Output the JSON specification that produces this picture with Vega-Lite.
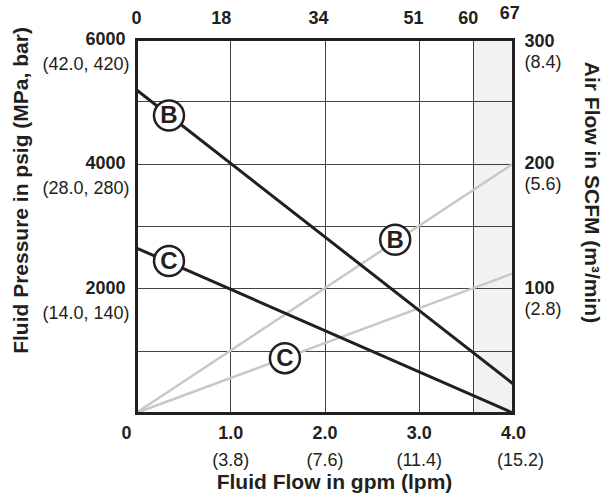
{
  "$schema": "https://vega.github.io/schema/vega-lite/v6.json",
  "width": 377,
  "height": 374,
  "autosize": {"type": "none"},
  "padding": {"left": 136, "top": 39, "right": 90, "bottom": 88},
  "background": "white",
  "config": {
    "font": "Liberation Sans",
    "view": {"stroke": null},
    "axis": {
      "labelFont": "Liberation Sans",
      "titleFont": "Liberation Sans",
      "labelColor": "#231f20",
      "titleColor": "#231f20",
      "ticks": false,
      "domain": false,
      "grid": false,
      "labelFontSize": 18,
      "titleFontSize": 21,
      "titleFontWeight": "bold",
      "labelFontWeight": "bold",
      "domainColor": "#231f20",
      "domainWidth": 3,
      "domainCap": "square",
      "gridColor": "#444444",
      "gridWidth": 1,
      "labelFlush": false,
      "labelOverlap": false,
      "labelBound": false
    }
  },
  "resolve": {
    "scale": {"x": "independent", "y": "independent"},
    "axis": {"x": "independent", "y": "independent"}
  },
  "layer": [
    {
      "data": {"values": [{"start": 3.58, "end": 4}]},
      "mark": {"type": "rect", "fill": "#000000", "fillOpacity": 0.05},
      "encoding": {
        "x": {
          "field": "start", "type": "quantitative",
          "scale": {"domain": [0, 4], "nice": false},
          "axis": {"orient": "bottom", "values": [1, 2, 3, 3.58], "grid": true, "labels": false, "title": null, "zindex": 0}
        },
        "x2": {"field": "end"}
      }
    },
    {
      "data": {"values": [
        {"line": "B", "gpm": 0, "scfm": 0},
        {"line": "B", "gpm": 4, "scfm": 200},
        {"line": "C", "gpm": 0, "scfm": 0},
        {"line": "C", "gpm": 4, "scfm": 112}
      ]},
      "mark": {"type": "line", "color": "#c8c8c8", "strokeWidth": 2.5},
      "encoding": {
        "x": {
          "field": "gpm", "type": "quantitative",
          "scale": {"domain": [0, 4], "nice": false},
          "axis": {
            "orient": "top",
            "values": [0, 0.9, 1.93, 2.94, 3.52, 3.96],
            "labelExpr": "datum.value < 0.5 ? '0' : datum.value < 1.5 ? '18' : datum.value < 2.5 ? '34' : datum.value < 3.2 ? '51' : datum.value < 3.8 ? '60' : '67'",
            "domain": true,
            "labelPadding": {"condition": {"test": "datum.value > 3.8", "value": 17}, "value": 12},
            "title": null,
            "zindex": 1
          }
        },
        "y": {
          "field": "scfm", "type": "quantitative",
          "scale": {"domain": [0, 300], "nice": false},
          "axis": {
            "orient": "right",
            "values": [100, 200, 300],
            "labelExpr": "'' + datum.value",
            "domain": true,
            "labelPadding": 11,
            "labelOffset": {"condition": {"test": "datum.value == 300", "value": 2}, "value": 0},
            "title": "Air Flow in SCFM (m³/min)",
            "titleAngle": 90,
            "titleX": 71,
            "titleY": 153,
            "titleAlign": "center",
            "titleBaseline": "alphabetic",
            "zindex": 1
          }
        },
        "detail": {"field": "line"}
      }
    },
    {
      "data": {"values": [
        {"line": "B", "gpm": 0, "psi": 5190},
        {"line": "B", "gpm": 4, "psi": 470},
        {"line": "C", "gpm": 0, "psi": 2650},
        {"line": "C", "gpm": 4, "psi": 0}
      ]},
      "mark": {"type": "line", "color": "#231f20", "strokeWidth": 3},
      "encoding": {
        "x": {
          "field": "gpm", "type": "quantitative",
          "scale": {"domain": [0, 4], "nice": false},
          "axis": {
            "orient": "bottom",
            "values": [0, 1, 2, 3, 4],
            "labelExpr": "datum.value == 0 ? '0' : format(datum.value, '.1f')",
            "domain": true,
            "labelPadding": 11,
            "labelOffset": {"condition": {"test": "datum.value == 0", "value": -10}, "value": 0},
            "title": "Fluid Flow in gpm (lpm)",
            "titleX": 198,
            "titleY": 75,
            "titleAlign": "center",
            "titleBaseline": "alphabetic",
            "zindex": 1
          }
        },
        "y": {
          "field": "psi", "type": "quantitative",
          "scale": {"domain": [0, 6000], "nice": false},
          "axis": {
            "orient": "left",
            "values": [2000, 4000, 6000],
            "labelExpr": "'' + datum.value",
            "domain": true,
            "labelPadding": 11,
            "title": "Fluid Pressure in psig (MPa, bar)",
            "titleAngle": -90,
            "titleX": -109,
            "titleY": 151,
            "titleAlign": "center",
            "titleBaseline": "alphabetic",
            "zindex": 1
          }
        },
        "detail": {"field": "line"}
      }
    },
    {
      "data": {"values": [
        {"label": "B", "gpm": 0.35, "psi": 4773},
        {"label": "C", "gpm": 0.35, "psi": 2439}
      ]},
      "mark": {"type": "point", "shape": "circle", "filled": true, "fill": "white", "stroke": "#231f20", "strokeWidth": 2.5, "size": 900, "opacity": 1},
      "encoding": {
        "x": {
          "field": "gpm", "type": "quantitative",
          "scale": {"domain": [0, 4], "nice": false},
          "axis": {
            "orient": "bottom",
            "values": [1, 2, 3, 4],
            "labelExpr": "'(' + format(datum.value * 3.8, '.1f') + ')'",
            "labelFontWeight": "normal",
            "labelPadding": 38,
            "labelOffset": {"condition": {"test": "datum.value == 4", "value": 7}, "value": 0},
            "title": null,
            "zindex": 0
          }
        },
        "y": {
          "field": "psi", "type": "quantitative",
          "scale": {"domain": [0, 6000], "nice": false},
          "axis": {
            "orient": "left",
            "values": [1000, 2000, 3000, 4000, 5000, 6000],
            "grid": true,
            "labelExpr": "datum.value % 2000 == 0 ? '(' + format(datum.value * 0.007, '.1f') + ', ' + format(datum.value * 0.07, 'd') + ')' : ''",
            "labelFontWeight": "normal",
            "labelPadding": 7,
            "labelOffset": 25,
            "title": null,
            "zindex": 0
          }
        }
      }
    },
    {
      "data": {"values": [
        {"label": "B", "gpm": 0.35, "psi": 4773},
        {"label": "C", "gpm": 0.35, "psi": 2439}
      ]},
      "mark": {"type": "text", "font": "Liberation Sans", "fontSize": 24, "fontWeight": "bold", "color": "#231f20", "align": "center", "baseline": "middle", "dy": 1},
      "encoding": {
        "x": {"field": "gpm", "type": "quantitative", "scale": {"domain": [0, 4], "nice": false}, "axis": null},
        "y": {"field": "psi", "type": "quantitative", "scale": {"domain": [0, 6000], "nice": false}, "axis": null},
        "text": {"field": "label"}
      }
    },
    {
      "data": {"values": [
        {"label": "B", "gpm": 2.75, "scfm": 139},
        {"label": "C", "gpm": 1.58, "scfm": 44}
      ]},
      "mark": {"type": "point", "shape": "circle", "filled": true, "fill": "white", "stroke": "#231f20", "strokeWidth": 2.5, "size": 900, "opacity": 1},
      "encoding": {
        "x": {"field": "gpm", "type": "quantitative", "scale": {"domain": [0, 4], "nice": false}, "axis": null},
        "y": {
          "field": "scfm", "type": "quantitative",
          "scale": {"domain": [0, 300], "nice": false},
          "axis": {
            "orient": "right",
            "values": [100, 200, 300],
            "labelExpr": "'(' + format(datum.value * 0.028, '.1f') + ')'",
            "labelFontWeight": "normal",
            "labelPadding": 11,
            "labelOffset": {"condition": {"test": "datum.value == 300", "value": 23}, "value": 21},
            "title": null,
            "zindex": 0
          }
        }
      }
    },
    {
      "data": {"values": [
        {"label": "B", "gpm": 2.75, "scfm": 139},
        {"label": "C", "gpm": 1.58, "scfm": 44}
      ]},
      "mark": {"type": "text", "font": "Liberation Sans", "fontSize": 24, "fontWeight": "bold", "color": "#231f20", "align": "center", "baseline": "middle", "dy": 1},
      "encoding": {
        "x": {"field": "gpm", "type": "quantitative", "scale": {"domain": [0, 4], "nice": false}, "axis": null},
        "y": {"field": "scfm", "type": "quantitative", "scale": {"domain": [0, 300], "nice": false}, "axis": null},
        "text": {"field": "label"}
      }
    }
  ]
}
